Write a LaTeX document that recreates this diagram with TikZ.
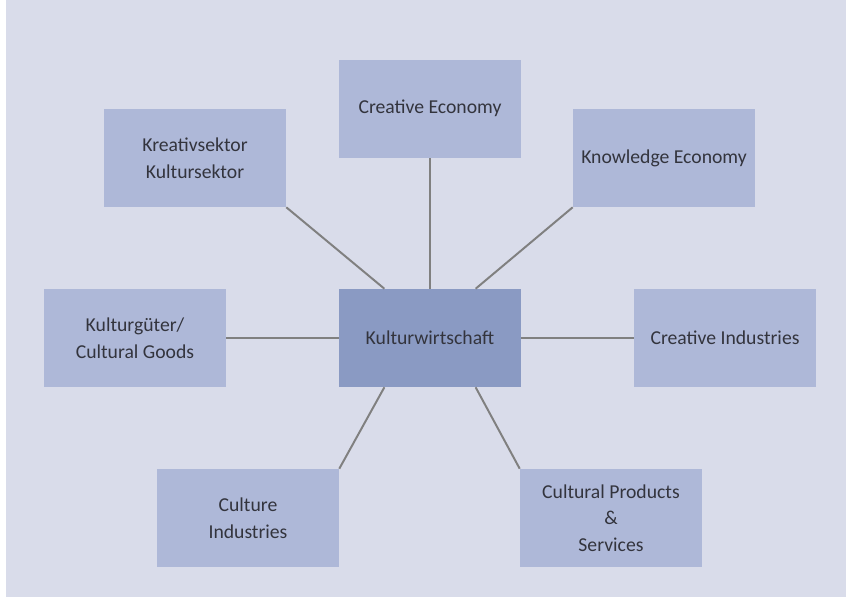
\documentclass[tikz,border=0pt]{standalone}
\usepackage{fontspec}
\setmainfont{Carlito}
\usepackage{tikz}
\usetikzlibrary{calc, positioning}
\definecolor{PanelLavender}{HTML}{D9DCEA}
\definecolor{BoxBlue}{HTML}{AEB8D8}
\definecolor{HubBlue}{HTML}{8A9AC3}
\definecolor{LinkGray}{HTML}{808080}
\definecolor{TextGray}{HTML}{33343D}
\colorlet{DiagramBackground}{PanelLavender}

\begin{document}
\begin{tikzpicture}[
    termbox/.style={fill=BoxBlue, minimum width=4.55cm, minimum height=2.45cm,
      inner sep=0pt, align=center, text=TextGray,
      font=\fontsize{14}{19}\selectfont},
    hubbox/.style={termbox, fill=HubBlue},
    link/.style={LinkGray, line width=1.4pt}
  ]

    % Background
    \useasboundingbox (0,0) rectangle (21.15,14.925);
    \fill[DiagramBackground] (0.15,0) rectangle (21.15,14.925);

    % Hub
    \node[hubbox] (kw) at (10.75,6.475) {Kulturwirtschaft};

    % Terms
    \node[termbox] (ce) at (10.75,12.21) {Creative Economy};
    \node[termbox] (ks) at (4.875,10.975) {Kreativsektor\\Kultursektor};
    \node[termbox] (ke) at (16.6,10.975) {Knowledge Economy};
    \node[termbox] (kg) at (3.375,6.475) {Kulturgüter/\\Cultural Goods};
    \node[termbox] (ci) at (18.125,6.475) {Creative Industries};
    \node[termbox] (cui) at (6.2,1.975) {Culture\\Industries};
    \node[termbox] (cp) at (15.275,1.975) {Cultural Products\\\&\\Services};

    % Links
    \draw[link] (kw.north) -- (ce.south);
    \draw[link] ($(kw.north)!0.5!(kw.north west)$) -- (ks.south east);
    \draw[link] ($(kw.north)!0.5!(kw.north east)$) -- (ke.south west);
    \draw[link] (kw.west) -- (kg.east);
    \draw[link] (kw.east) -- (ci.west);
    \draw[link] ($(kw.south)!0.5!(kw.south west)$) -- (cui.north east);
    \draw[link] ($(kw.south)!0.5!(kw.south east)$) -- (cp.north west);

\end{tikzpicture}
\end{document}
